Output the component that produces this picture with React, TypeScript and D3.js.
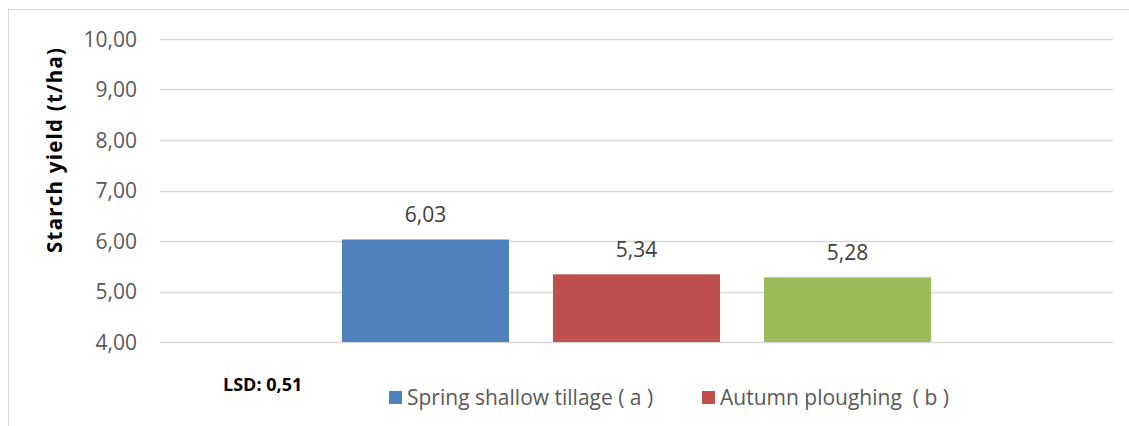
import React, { useRef, useEffect } from "react";
import { select, scaleBand, scaleLinear, range } from "d3";

const seriesNames = ["Spring shallow tillage ( a )", "Autumn ploughing  ( b )", "Spring ploughing ( c )"];
const seriesValues = [6.03, 5.34, 5.28];
const seriesColors = ["#4f81bd", "#c0504d", "#9bbb59"];
const legendNames = ["Spring shallow tillage ( a )", "Autumn ploughing  ( b )"];
const yTicks = [4, 5, 6, 7, 8, 9, 10];
const lsdLabel = "LSD: 0,51";

const fmt = (v: number) => v.toFixed(2).replace(".", ",");
const FONT = "'Open Sans', Lato, sans-serif";

function App() {
  const svgRef = useRef<SVGSVGElement>(null);

  useEffect(() => {
    const svg = select(svgRef.current);
    svg.selectAll("*").remove();

    const width = 1129;
    const height = 426;
    const left = 160, right = 1113, top = 39, bottom = 342;

    const y = scaleLinear().domain([4, 10]).range([bottom, top]);
    const x = scaleBand<number>()
      .domain(range(seriesValues.length))
      .range([left, right])
      .paddingInner(0.2085)
      .paddingOuter(0.862);

    // chart frame
    svg.append("rect")
      .attr("x", 8.5).attr("y", 9.5)
      .attr("width", width + 10).attr("height", height + 10)
      .attr("fill", "white")
      .attr("stroke", "#d9d9d9");

    // gridlines + tick labels
    svg.selectAll(".grid")
      .data(yTicks)
      .join("line")
      .attr("class", "grid")
      .attr("x1", left).attr("x2", right)
      .attr("y1", d => Math.round(y(d)) + 0.5)
      .attr("y2", d => Math.round(y(d)) + 0.5)
      .attr("stroke", "#d9d9d9")
      .attr("stroke-width", 1.5);

    svg.selectAll(".tick")
      .data(yTicks)
      .join("text")
      .attr("class", "tick")
      .attr("x", 137)
      .attr("y", d => y(d) + 7.5)
      .attr("text-anchor", "end")
      .attr("font-family", FONT)
      .attr("font-size", 21)
      .attr("fill", "#595959")
      .text(d => fmt(d));

    // bars
    svg.selectAll(".bar")
      .data(seriesValues)
      .join("rect")
      .attr("class", "bar")
      .attr("x", (d, i) => x(i)!)
      .attr("width", x.bandwidth())
      .attr("y", d => y(d))
      .attr("height", d => y(4) - y(d))
      .attr("fill", (d, i) => seriesColors[i]);

    svg.selectAll(".val")
      .data(seriesValues)
      .join("text")
      .attr("class", "val")
      .attr("x", (d, i) => x(i)! + x.bandwidth() / 2)
      .attr("y", d => y(d) - 17.5)
      .attr("text-anchor", "middle")
      .attr("font-family", FONT)
      .attr("font-size", 21)
      .attr("fill", "#404040")
      .text(d => fmt(d));

    // y axis title
    svg.append("text")
      .attr("transform", `translate(62, 150.5) rotate(-90)`)
      .attr("text-anchor", "middle")
      .attr("font-family", FONT)
      .attr("font-size", 20.5)
      .attr("font-weight", "bold")
      .attr("fill", "#000")
      .attr("textLength", 205)
      .attr("lengthAdjust", "spacing")
      .text("Starch yield (t/ha)");

    // LSD note
    svg.append("text")
      .attr("x", 223).attr("y", 391)
      .attr("font-family", FONT)
      .attr("font-size", 18)
      .attr("font-weight", "bold")
      .attr("fill", "#000")
      .text(lsdLabel);

    // legend
    const legendX = [389, 702];
    const leg = svg.selectAll(".leg")
      .data(legendNames)
      .join("g")
      .attr("class", "leg")
      .attr("transform", (d, i) => `translate(${legendX[i]}, 0)`);
    leg.append("rect")
      .attr("x", 0).attr("y", 391)
      .attr("width", 13).attr("height", 13)
      .attr("fill", (d, i) => seriesColors[i]);
    leg.append("text")
      .attr("x", 18).attr("y", 405)
      .attr("font-family", FONT)
      .attr("font-size", 21)
      .attr("fill", "#595959")
      .attr("style", "white-space: pre")
      .text(d => d);
  }, []);

  return (
    <svg ref={svgRef} width={1129} height={426}
      style={{ position: "absolute", left: 0, top: 0, display: "block" }} />
  );
}

export default App;
